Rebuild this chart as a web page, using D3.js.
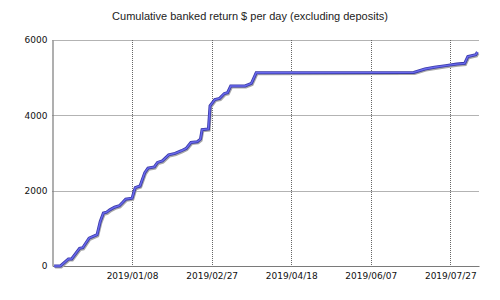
<!DOCTYPE html>
<html>
<head>
<meta charset="utf-8">
<script src="https://cdn.jsdelivr.net/npm/d3@7"></script>
<style>
  body { margin: 0; background: #fff; }
  svg { display: block; }
</style>
</head>
<body>
<div class="Chart"></div>
<script>
// cumulative banked return
var dates = ["2018/11/20","2018/11/24","2018/11/29","2018/12/01","2018/12/06","2018/12/08",
  "2018/12/12","2018/12/17","2018/12/19","2018/12/21","2018/12/23","2018/12/25","2018/12/28",
  "2018/12/31","2019/01/02","2019/01/04","2019/01/08","2019/01/10","2019/01/13","2019/01/16",
  "2019/01/18","2019/01/22","2019/01/24","2019/01/27","2019/01/31","2019/02/04","2019/02/08",
  "2019/02/11","2019/02/14","2019/02/18","2019/02/20","2019/02/21","2019/02/25","2019/02/26",
  "2019/03/01","2019/03/04","2019/03/07","2019/03/09","2019/03/11","2019/03/20","2019/03/24",
  "2019/03/27","2019/07/04","2019/07/11","2019/07/17","2019/07/24","2019/07/31","2019/08/05",
  "2019/08/07","2019/08/12","2019/08/13"];
var values = [0, 0, 186, 186, 470, 485,
  740, 830, 1180, 1405, 1430, 1490, 1560,
  1600, 1685, 1775, 1800, 2080, 2125, 2480,
  2600, 2630, 2750, 2790, 2950, 2990, 3060,
  3120, 3280, 3300, 3370, 3620, 3640, 4250,
  4420, 4450, 4580, 4600, 4780, 4780, 4850,
  5130, 5140, 5230, 5275, 5320, 5360, 5380,
  5560, 5610, 5680];
var x_ticks = ["2019/01/08","2019/02/27","2019/04/18","2019/06/07","2019/07/27"];
var y_ticks = [0, 2000, 4000, 6000];
var x_range = ["2018/11/19","2019/08/14"];

var parseDate = d3.timeParse("%Y/%m/%d");
var formatDate = d3.timeFormat("%Y/%m/%d");

function drawChart() {
  var width = 500;
  var height = 300;
  var margin = {left: 52.5, right: 21, top: 40, bottom: 34};

  var svg = d3.select(".Chart")
              .append("svg")
              .attr("width", width)
              .attr("height", height);

  var x = d3.scaleTime()
            .domain(x_range.map(parseDate))
            .range([margin.left, width - margin.right]);
  var y = d3.scaleLinear()
            .domain([0, 6000])
            .range([height - margin.bottom, margin.top]);

  // title
  svg.append("text")
     .attr("x", 250)
     .attr("y", 20)
     .attr("text-anchor", "middle")
     .attr("font-family", "Liberation Sans, Arial, sans-serif")
     .attr("font-size", 11)
     .attr("fill", "#222")
     .text("Cumulative banked return $ per day (excluding deposits)");

  // dotted grid
  svg.append("g")
     .selectAll("line.hgrid")
     .data(y_ticks.filter(function(d){ return d > 0; }))
     .enter().append("line")
     .attr("x1", margin.left)
     .attr("x2", width - margin.right)
     .attr("y1", function(d){ return Math.round(y(d)) + 0.5; })
     .attr("y2", function(d){ return Math.round(y(d)) + 0.5; })
     .attr("stroke", "#666")
     .attr("stroke-dasharray", "1,1");

  svg.append("g")
     .selectAll("line.vgrid")
     .data(x_ticks.map(parseDate))
     .enter().append("line")
     .attr("x1", function(d){ return Math.round(x(d)) + 0.5; })
     .attr("x2", function(d){ return Math.round(x(d)) + 0.5; })
     .attr("y1", margin.top)
     .attr("y2", height - margin.bottom)
     .attr("stroke", "#666")
     .attr("stroke-dasharray", "1,1");

  // axes
  var xAxis = d3.axisBottom(x)
                .tickValues(x_ticks.map(parseDate))
                .tickFormat(formatDate)
                .tickSize(0)
                .tickPadding(7);
  var yAxis = d3.axisLeft(y)
                .tickValues(y_ticks)
                .tickFormat(d3.format("d"))
                .tickSize(0)
                .tickPadding(5);

  var gx = svg.append("g")
              .attr("transform", "translate(0," + (height - margin.bottom) + ")")
              .call(xAxis);
  var gy = svg.append("g")
              .attr("transform", "translate(" + margin.left + ",0)")
              .call(yAxis);

  [gx, gy].forEach(function(g){
    g.select(".domain").attr("stroke", "#7a7a7a").attr("stroke-width", 1.2);
    g.selectAll("text")
     .attr("font-family", "DejaVu Sans, Verdana, sans-serif")
     .attr("font-size", 9)
     .attr("fill", "#111");
  });

  // line
  var data = dates.map(function(d, i){ return {date: parseDate(d), value: values[i]}; });
  var line = d3.line()
               .x(function(d){ return x(d.date); })
               .y(function(d){ return y(d.value); });

  svg.append("path")
     .datum(data)
     .attr("d", line)
     .attr("fill", "none")
     .attr("stroke", "#a8a8a8")
     .attr("stroke-width", 2.2)
     .attr("transform", "translate(1,1.5)");
  svg.append("path")
     .datum(data)
     .attr("d", line)
     .attr("fill", "none")
     .attr("stroke", "#3a3aa8")
     .attr("stroke-width", 3);
  svg.append("path")
     .datum(data)
     .attr("d", line)
     .attr("fill", "none")
     .attr("stroke", "#6a6aee")
     .attr("stroke-width", 1.4);
}

drawChart();
</script>
</body>
</html>
